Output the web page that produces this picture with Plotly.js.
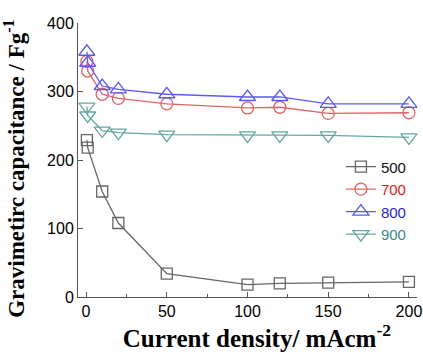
<!DOCTYPE html>
<html>
<head>
<meta charset="utf-8">
<script src="https://cdn.plot.ly/plotly-3.0.1.min.js"></script>
<style>html,body{margin:0;padding:0;background:#fff;}#chart{width:423px;height:352px;}</style>
</head>
<body>
<div id="chart"></div>
<script>
const currentDensity = [0.5, 1, 10, 20, 50, 100, 120, 150, 200];
const cap500 = [229, 218, 154, 108, 34, 18, 20, 21, 22];
const cap700 = [344, 330, 296, 290, 282, 276, 277, 268, 269];
const cap800 = [358, 342, 308, 303, 296, 292, 292, 282, 282];
const cap900 = [278, 265, 243, 240, 237, 236, 236, 236, 233];
const seriesNames = ['500', '700', '800', '900'];
const xTicks = [0, 50, 100, 150, 200];
const yTicks = [0, 100, 200, 300, 400];

const styles = [
  {line: '#666666', symbol: 'square', size: 11, text: '#111111'},
  {line: '#e06464', symbol: 'circle', size: 12, text: '#dd1c1c'},
  {line: '#5a5af5', symbol: 'triangle-up', size: 14, text: '#1f1fe6'},
  {line: '#64a8a2', symbol: 'triangle-down', size: 14, text: '#3f8a86'}
];
const values = [cap500, cap700, cap800, cap900];

const traces = values.map((v, i) => ({
  x: currentDensity,
  y: v,
  name: '<span style="color:' + styles[i].text + '">' + seriesNames[i] + '</span>',
  type: 'scatter',
  mode: 'lines+markers',
  line: {color: styles[i].line, width: 1.3},
  marker: {symbol: styles[i].symbol, size: styles[i].size, color: 'rgba(255,255,255,0)',
           line: {color: styles[i].line, width: 1.3}},
  cliponaxis: false
}));

const titleFont = {family: 'Liberation Serif, Times New Roman, serif', color: '#000', weight: 'bold'};

const layout = {
  width: 423, height: 352,
  margin: {l: 78, r: 6, t: 23, b: 55},
  paper_bgcolor: '#fff', plot_bgcolor: '#fff',
  font: {family: 'Liberation Sans, Arial, sans-serif', size: 16, color: '#000'},
  showlegend: true,
  legend: {x: 0.985, xanchor: 'right', y: 0.535, yanchor: 'top', bgcolor: 'rgba(0,0,0,0)',
           font: {size: 15}, itemwidth: 30, tracegroupgap: 0},
  xaxis: {
    range: [-5, 205], tickvals: xTicks, ticktext: xTicks.map(String),
    ticks: 'inside', ticklen: 5, tickcolor: '#555', showline: true, linecolor: '#555', linewidth: 1,
    showgrid: false, zeroline: false, mirror: false,
    minor: {ticks: 'inside', ticklen: 3, tickcolor: '#555', dtick: 25, tick0: 0, showgrid: false},
    tickfont: {size: 16},
    title: {text: '<b>&nbsp;&nbsp;&nbsp;Current density/ mAcm<sup>-2</sup></b>', standoff: 10,
            font: Object.assign({size: 25}, titleFont)}
  },
  yaxis: {
    range: [0, 400], tickvals: yTicks, ticktext: yTicks.map(String),
    ticks: 'inside', ticklen: 5, tickcolor: '#555', showline: true, linecolor: '#555', linewidth: 1,
    showgrid: false, zeroline: false,
    tickfont: {size: 16},
    title: {text: '<b>Gravimetirc capacitance / Fg<sup>-1</sup>&nbsp;&nbsp;&nbsp;</b>', standoff: 17,
            font: Object.assign({size: 23}, titleFont)}
  }
};

Plotly.newPlot('chart', traces, layout, {staticPlot: true, displayModeBar: false});
</script>
</body>
</html>
